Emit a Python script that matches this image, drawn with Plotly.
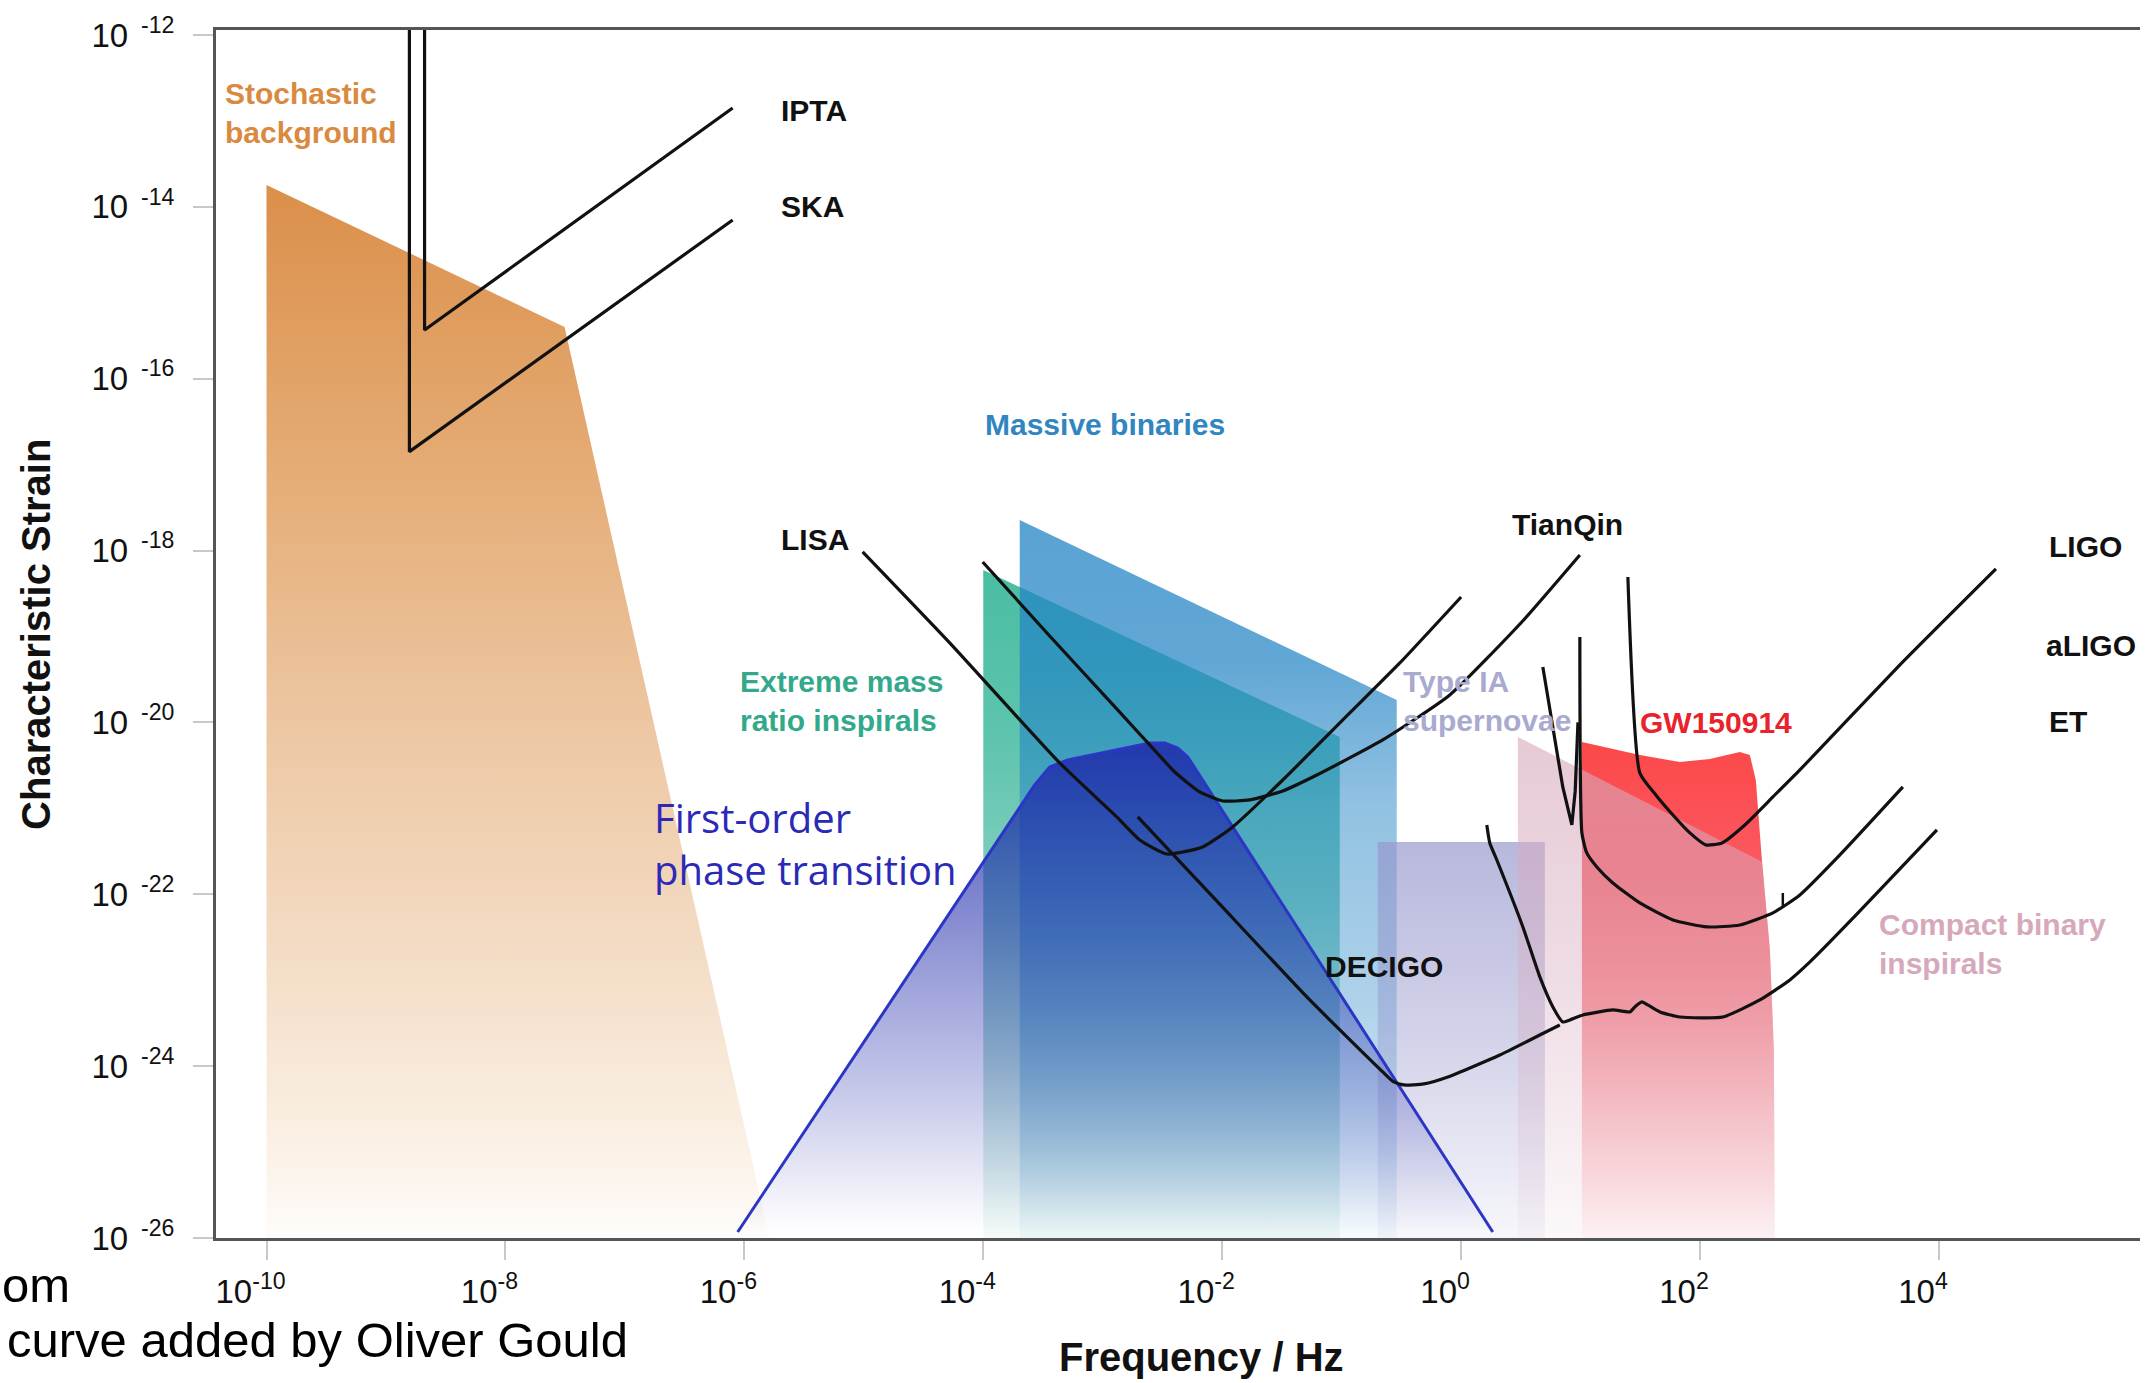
import numpy as np
import plotly.graph_objects as go

# ---------------- data: log10(frequency / Hz) and log10(characteristic strain) ----------------
# filled source regions
stoch_lf = [-10.0, -10.0, -7.505, -5.79]
stoch_lh = [-26.0, -13.746, -15.398, -26.0]

emri_lf = [-4.0, -4.0, -1.016, -1.016]
emri_lh = [-26.0, -18.226, -20.169, -26.0]

mbin_lf = [-3.695, -3.695, -0.539, -0.539]
mbin_lh = [-26.0, -17.644, -19.739, -26.0]

snia_lf = [-0.698, -0.698, 0.701, 0.701]
snia_lh = [-26.0, -21.391, -21.391, -26.0]

gw_lf = [1.011, 1.011, 1.496, 1.831, 2.082, 2.333, 2.417, 2.467, 2.518, 2.585, 2.618, 2.627]
gw_lh = [-26.0, -20.227, -20.379, -20.460, -20.425, -20.344, -20.379, -20.670, -21.601, -22.648, -23.811, -26.0]

cbc_lf = [0.475, 0.475, 2.518, 2.585, 2.618, 2.627]
cbc_lh = [-26.0, -20.169, -21.620, -22.648, -23.811, -26.0]

fopt_lf = [-6.056, -3.570, -3.444, -3.293, -2.607, -2.481, -2.372, -2.288, 0.265]
fopt_lh = [-25.930, -20.728, -20.518, -20.437, -20.239, -20.239, -20.297, -20.402, -25.930]

# detector sensitivity curves
ipta_lf = [-8.677, -8.677, -6.098]
ipta_lh = [-11.5, -15.433, -12.850]
ska_lf = [-8.804, -8.804, -6.098]
ska_lh = [-11.5, -16.849, -14.153]

lisa_lf = [-5.010, -4.281, -3.360, -2.883, -2.690, -2.464, -2.163, -1.912, -1.493, -0.932, -0.513, 0.0]
lisa_lh = [-18.016, -19.075, -20.472, -21.100, -21.368, -21.531, -21.449, -21.216, -20.670, -19.890, -19.308, -18.540]

tianqin_lf = [-4.005, -3.444, -2.883, -2.607, -2.397, -2.188, -1.995, -1.769, -1.493, -1.208, -0.656, -0.095, 0.508, 0.994]
tianqin_lh = [-18.133, -18.994, -19.843, -20.262, -20.577, -20.809, -20.914, -20.902, -20.798, -20.612, -20.204, -19.680, -18.831, -18.051]

decigo_lf = [-2.707, -2.054, -1.267, -0.647, -0.564, -0.480, -0.312, -0.111, 0.324, 0.692, 0.826]
decigo_lh = [-21.100, -22.066, -23.230, -24.079, -24.184, -24.219, -24.207, -24.126, -23.870, -23.614, -23.521]

et_lf = [0.215, 0.240, 0.299, 0.517, 0.659, 0.768, 0.851, 0.910, 1.019, 1.270, 1.412, 1.454, 1.513,
         1.563, 1.664, 1.831, 2.191, 2.501, 2.752, 2.920, 3.087, 3.506, 3.983]
et_lh = [-21.193, -21.403, -21.601, -22.380, -22.962, -23.311, -23.486, -23.462, -23.404, -23.346, -23.369,
         -23.311, -23.253, -23.288, -23.369, -23.428, -23.428, -23.230, -22.997, -22.787, -22.555, -21.950, -21.251]

ligo_lf = [1.396, 1.496, 1.630, 1.773, 1.915, 2.049, 2.183, 2.375, 2.610, 2.836, 3.673, 4.477]
ligo_lh = [-18.307, -20.588, -20.844, -21.077, -21.286, -21.426, -21.403, -21.193, -20.867, -20.553, -19.331, -18.214]

aligo_lf = [0.994, 1.011, 1.052, 1.136, 1.270, 1.496, 1.773, 2.057, 2.333, 2.610, 2.836, 3.171, 3.698]
aligo_lh = [-19.006, -21.286, -21.519, -21.682, -21.868, -22.101, -22.299, -22.380, -22.357, -22.217, -22.008,
            -21.542, -20.751]
aligo_spike_lf = [2.693, 2.693]
aligo_spike_lh = [-22.16, -21.985]

vnotch_lf = [0.684, 0.768, 0.851, 0.927, 0.955, 0.978]
vnotch_lh = [-19.355, -20.053, -20.751, -21.193, -20.800, -20.000]

# text labels
label_text = ["<b>Stochastic<br>background</b>", "<b>IPTA</b>", "<b>SKA</b>", "<b>Massive binaries</b>",
              "<b>LISA</b>", "<b>TianQin</b>", "<b>LIGO</b>", "<b>aLIGO</b>", "<b>ET</b>",
              "<b>Extreme mass<br>ratio inspirals</b>", "<b>DECIGO</b>", "<b>Type IA<br>supernovae</b>",
              "<b>GW150914</b>", "<b>Compact binary<br>inspirals</b>"]
label_lf = [-10.368, -5.713, -5.713, -4.005, -5.713, 0.408, 4.904, 4.879, 4.904, -6.056, -1.158, -0.505, 1.479, 3.480]
label_lh = [-12.913, -12.873, -14.000, -16.538, -17.877, -17.702, -17.958, -19.099, -19.995, -19.750, -22.846,
            -19.750, -20.006, -22.584]
label_color = ["#D98A40", "#111111", "#111111", "#2F86C0", "#111111", "#111111", "#111111", "#111111",
               "#111111", "#33A98B", "#111111", "#A9AAD0", "#E8232B", "#D6A8BB"]

fopt_text = "First-order<br>phase transition"
fopt_text_lf = -6.776
fopt_text_lh = -21.414

x_tick_exp = [-10, -8, -6, -4, -2, 0, 2, 4]
y_tick_exp = [-26, -24, -22, -20, -18, -16, -14, -12]

x_range = [-10.423, 5.683]
y_range = [-26.0, -11.942]

# ---------------- figure ----------------
fig = go.Figure()


def region(lf, lh, scale):
    fig.add_trace(go.Scatter(
        x=10.0 ** np.array(lf), y=10.0 ** np.array(lh), mode="lines", fill="toself",
        line=dict(width=0, color="rgba(0,0,0,0)"),
        fillgradient=dict(type="vertical", colorscale=scale),
        hoverinfo="skip", showlegend=False))


def curve(lf, lh, color="#111111", width=3.2, shape="spline"):
    fig.add_trace(go.Scatter(
        x=10.0 ** np.array(lf), y=10.0 ** np.array(lh), mode="lines",
        line=dict(color=color, width=width, shape=shape, smoothing=0.5),
        hoverinfo="skip", showlegend=False))


region(stoch_lf, stoch_lh, [[0, "#FEFCFA"], [0.084, "#FBF1E6"], [0.274, "#F3DCC4"], [0.511, "#ECC49E"],
                            [0.748, "#E4AA72"], [1, "#DB8F4A"]])
region(emri_lf, emri_lh, [[0, "#F4FAF8"], [0.28, "#B5E0D6"], [0.5, "#85D0BF"], [0.75, "#5EC4AD"], [1, "#4ABDA3"]])
region(mbin_lf, mbin_lh, [[0, "rgba(36,133,197,0.04)"], [0.12, "rgba(36,133,197,0.19)"],
                          [0.33, "rgba(36,133,197,0.37)"], [0.6, "rgba(36,133,197,0.5)"],
                          [0.8, "rgba(36,133,197,0.72)"], [1, "rgba(36,133,197,0.76)"]])
region(snia_lf, snia_lh, [[0, "rgba(150,150,205,0.08)"], [0.5, "rgba(150,150,205,0.42)"],
                          [1, "rgba(150,150,205,0.68)"]])
region(gw_lf, gw_lh, [[0, "rgba(250,70,80,0.04)"], [0.25, "rgba(250,70,80,0.3)"], [0.5, "rgba(250,70,80,0.65)"],
                      [0.75, "rgba(250,70,80,0.9)"], [1, "rgba(252,72,72,1)"]])
region(cbc_lf, cbc_lh, [[0, "rgba(215,171,190,0.08)"], [0.5, "rgba(215,171,190,0.4)"],
                        [1, "rgba(215,171,190,0.63)"]])
region(fopt_lf, fopt_lh, [[0, "rgba(30,40,170,0)"], [0.07, "rgba(30,40,170,0.06)"], [0.27, "rgba(30,40,170,0.24)"],
                          [0.47, "rgba(30,40,170,0.4)"], [0.75, "rgba(30,40,170,0.62)"],
                          [1, "rgba(30,40,170,0.85)"]])
curve(fopt_lf, fopt_lh, color="#2B36C4", width=3, shape="linear")

curve(ipta_lf, ipta_lh, shape="linear")
curve(ska_lf, ska_lh, shape="linear")
curve(lisa_lf, lisa_lh)
curve(tianqin_lf, tianqin_lh)
curve(decigo_lf, decigo_lh)
curve(et_lf, et_lh)
curve(ligo_lf, ligo_lh)
curve(aligo_lf, aligo_lh)
curve(aligo_spike_lf, aligo_spike_lh, width=2.5, shape="linear")
curve(vnotch_lf, vnotch_lh, shape="linear")

annotations = []
for t, xl, yl, c in zip(label_text, label_lf, label_lh, label_color):
    annotations.append(dict(x=xl, y=yl, xref="x", yref="y", text=t, showarrow=False, xanchor="left",
                            yanchor="middle", align="left",
                            font=dict(family="Liberation Sans", size=30, color=c)))
annotations.append(dict(x=fopt_text_lf, y=fopt_text_lh, xref="x", yref="y", text=fopt_text, showarrow=False,
                        xanchor="left", yanchor="middle", align="left",
                        font=dict(family="Open Sans", size=40, color="#2B2AB6")))

# axis titles and caption (paper coordinates)
annotations.append(dict(x=0.512, y=-0.0985, xref="paper", yref="paper", text="<b>Frequency / Hz</b>",
                        showarrow=False, xanchor="center", yanchor="middle",
                        font=dict(family="Liberation Sans", size=40, color="#111111")))
annotations.append(dict(x=-0.0936, y=0.5, xref="paper", yref="paper", text="<b>Characteristic Strain</b>",
                        showarrow=False, xanchor="center", yanchor="middle", textangle=-90,
                        font=dict(family="Liberation Sans", size=40, color="#111111")))
annotations.append(dict(x=-0.1123, y=-0.0389, xref="paper", yref="paper", text="om",
                        showarrow=False, xanchor="left", yanchor="middle",
                        font=dict(family="Liberation Sans", size=49, color="#000000")))
annotations.append(dict(x=-0.1097, y=-0.0844, xref="paper", yref="paper", text="curve added by Oliver Gould",
                        showarrow=False, xanchor="left", yanchor="middle",
                        font=dict(family="Liberation Sans", size=49, color="#000000")))

fig.update_layout(
    width=2151, height=1383,
    margin=dict(l=216, r=11, t=30, b=145, pad=0),
    paper_bgcolor="white", plot_bgcolor="white",
    showlegend=False, annotations=annotations,
)
fig.update_xaxes(
    type="log", range=x_range,
    tickvals=[10.0 ** k for k in x_tick_exp],
    ticktext=["10<sup>%d</sup>" % k for k in x_tick_exp],
    ticks="outside", ticklen=19, tickwidth=1.5, tickcolor="#c8c8c8",
    showline=True, linewidth=3, linecolor="#555555", mirror=True,
    showgrid=False, zeroline=False,
    tickfont=dict(family="Liberation Sans", size=33, color="#111111"),
    ticklabelshift=-16, ticklabelstandoff=3,
)
fig.update_yaxes(
    type="log", range=y_range,
    tickvals=[10.0 ** k for k in y_tick_exp],
    ticktext=["10<sup>\u00a0\u00a0%d</sup>" % k for k in y_tick_exp],
    ticks="outside", ticklen=20, tickwidth=1.5, tickcolor="#c8c8c8",
    showline=True, linewidth=3, linecolor="#555555", mirror=False,
    showgrid=False, zeroline=False,
    tickfont=dict(family="Liberation Sans", size=33, color="#111111"),
    ticklabelstandoff=12,
)

fig.write_html("out.html")
